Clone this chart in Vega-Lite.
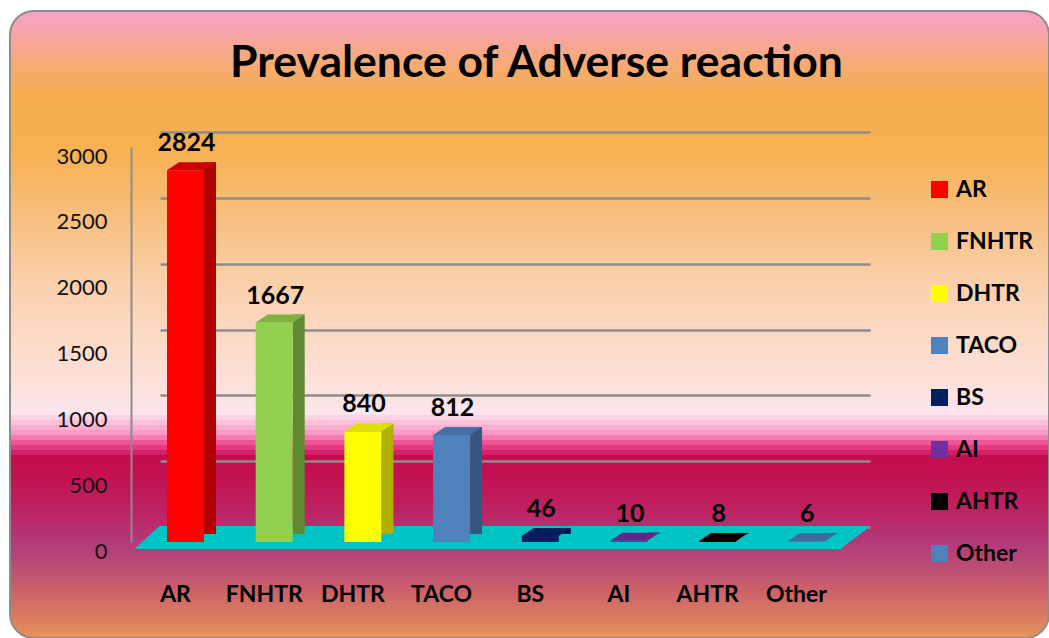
{
  "$schema": "https://vega.github.io/schema/vega-lite/v6.json",
  "width": 1039,
  "height": 627,
  "padding": {"left": 10, "top": 11, "right": 0, "bottom": 0},
  "autosize": {"type": "none"},
  "background": "#ffffff",
  "config": {
    "font": "Lato",
    "view": {
      "cornerRadius": 24,
      "stroke": "#8c8c8c",
      "strokeWidth": 2,
      "fill": {
        "gradient": "linear", "x1": 0, "y1": 0, "x2": 0, "y2": 1,
        "stops": [
          {"offset": 0.0, "color": "#f9a1c9"},
          {"offset": 0.03, "color": "#f8a4b0"},
          {"offset": 0.078, "color": "#f7a97a"},
          {"offset": 0.134, "color": "#f6ae4e"},
          {"offset": 0.222, "color": "#f6b151"},
          {"offset": 0.301, "color": "#f7bb72"},
          {"offset": 0.381, "color": "#f9c896"},
          {"offset": 0.461, "color": "#fbd3b4"},
          {"offset": 0.541, "color": "#fcdccb"},
          {"offset": 0.62, "color": "#fde3e3"},
          {"offset": 0.644, "color": "#fde6ee"},
          {"offset": 0.6443, "color": "#fcd3e4"},
          {"offset": 0.6523, "color": "#fcd3e4"},
          {"offset": 0.6524, "color": "#fcc0d9"},
          {"offset": 0.6603, "color": "#fcc0d9"},
          {"offset": 0.6604, "color": "#fbaed0"},
          {"offset": 0.6683, "color": "#fbaed0"},
          {"offset": 0.6684, "color": "#f99bc6"},
          {"offset": 0.6762, "color": "#f99bc6"},
          {"offset": 0.6763, "color": "#f67bb4"},
          {"offset": 0.6842, "color": "#f67bb4"},
          {"offset": 0.6843, "color": "#f05598"},
          {"offset": 0.6922, "color": "#f05598"},
          {"offset": 0.6923, "color": "#e43a82"},
          {"offset": 0.7002, "color": "#e43a82"},
          {"offset": 0.7003, "color": "#d51f68"},
          {"offset": 0.7081, "color": "#d51f68"},
          {"offset": 0.7082, "color": "#c40c4e"},
          {"offset": 0.748, "color": "#c21354"},
          {"offset": 0.796, "color": "#bd2262"},
          {"offset": 0.844, "color": "#b3387a"},
          {"offset": 0.876, "color": "#b84876"},
          {"offset": 0.923, "color": "#cb6069"},
          {"offset": 0.963, "color": "#d97a62"},
          {"offset": 1.0, "color": "#e6955a"}
        ]
      }
    }
  },
  "title": {
    "text": "Prevalence of Adverse reaction",
    "font": "Lato",
    "fontSize": 44.5,
    "fontWeight": "bold",
    "color": "#000000",
    "anchor": "middle",
    "frame": "group",
    "baseline": "alphabetic",
    "offset": -110,
    "dx": 7
  },
  "data": {
    "values": [
      {"cat": "AR", "value": 2824},
      {"cat": "FNHTR", "value": 1667},
      {"cat": "DHTR", "value": 840},
      {"cat": "TACO", "value": 812},
      {"cat": "BS", "value": 46},
      {"cat": "AI", "value": 10},
      {"cat": "AHTR", "value": 8},
      {"cat": "Other", "value": 6}
    ]
  },
  "encoding": {
    "x": {
      "field": "cat",
      "type": "nominal",
      "sort": null,
      "scale": {"range": [150, 860], "paddingInner": 0.5, "paddingOuter": 0.2525, "align": 0.0744},
      "axis": {
        "title": null,
        "orient": "bottom",
        "offset": -50,
        "domain": false,
        "ticks": false,
        "grid": false,
        "labelAngle": 0,
        "labelFont": "Lato",
        "labelFontSize": 23,
        "labelFontWeight": "bold",
        "labelColor": "#000000",
        "labelBaseline": "middle",
        "labelPadding": 6,
        "labelOffset": -10
      }
    },
    "y": {
      "field": "value",
      "type": "quantitative",
      "scale": {"domain": [0, 3000], "range": [531, 136], "nice": false, "zero": true},
      "axis": {
        "title": null,
        "values": [0, 500, 1000, 1500, 2000, 2500, 3000],
        "format": "d",
        "offset": -121,
        "domain": true,
        "domainColor": "#8c8c8c",
        "domainWidth": 2,
        "ticks": false,
        "tickSize": 0,
        "tickOffset": -15,
        "labelOffset": 24,
        "labelPadding": 24,
        "labelFont": "Lato",
        "labelFontSize": 22,
        "labelColor": "#111111",
        "grid": true,
        "gridColor": "#8c8c8c",
        "gridWidth": 2.5,
        "gridOpacity": 1
      }
    }
  },
  "layer": [
    {
      "mark": {
        "type": "point",
        "filled": true,
        "fill": "#00c4c4",
        "opacity": 1,
        "strokeWidth": 0,
        "size": 540225,
        "xOffset": -27,
        "yOffset": -4.5,
        "shape": "M -1 0.0313 L 0.918 0.0313 L 1 -0.0313 L -0.932 -0.0313 Z"
      },
      "encoding": {
        "x": null,
        "y": {"datum": 0, "type": "quantitative"}
      }
    },
    {
      "mark": {"type": "bar", "width": 12, "xOffset": 24.5, "yOffset": -8, "y2Offset": -7},
      "encoding": {
        "fill": {
          "field": "cat",
          "type": "nominal",
          "legend": null,
          "scale": {
            "domain": ["AR", "FNHTR", "DHTR", "TACO", "BS", "AI", "AHTR", "Other"],
            "range": ["#b00000", "#5f8a31", "#b0b000", "#34567f", "#001845", "#4a1f6e", "#000000", "#30507a"]
          }
        }
      }
    },
    {
      "mark": {"type": "bar", "width": 37},
      "encoding": {
        "color": {
          "field": "cat",
          "type": "nominal",
          "scale": {
            "domain": ["AR", "FNHTR", "DHTR", "TACO", "BS", "AI", "AHTR", "Other"],
            "range": ["#ff0000", "#92d050", "#ffff00", "#4f81bd", "#002060", "#7030a0", "#000000", "#4f81bd"]
          },
          "legend": {
            "title": null,
            "orient": "none",
            "legendX": 918,
            "legendY": 167,
            "symbolType": "square",
            "symbolSize": 289,
            "symbolStrokeWidth": 0,
            "symbolOpacity": 1,
            "labelFont": "Lato",
            "labelFontSize": 23,
            "labelFontWeight": "bold",
            "labelColor": "#000000",
            "labelOffset": 5,
            "rowPadding": 28,
            "padding": 0
          }
        }
      }
    },
    {
      "mark": {
        "type": "point",
        "filled": true,
        "opacity": 1,
        "strokeWidth": 0,
        "size": 2401,
        "xOffset": 6,
        "yOffset": -4,
        "shape": "M -1 0.163 L 0.51 0.163 L 1 -0.163 L -0.51 -0.163 Z"
      },
      "encoding": {
        "fill": {
          "field": "cat",
          "type": "nominal",
          "legend": null,
          "scale": {
            "domain": ["AR", "FNHTR", "DHTR", "TACO", "BS", "AI", "AHTR", "Other"],
            "range": ["#cc0000", "#7fb23e", "#dede00", "#426fa6", "#001f5c", "#5e2887", "#000000", "#3f6a9c"]
          }
        }
      }
    },
    {
      "mark": {
        "type": "text",
        "font": "Lato",
        "fontSize": 25,
        "fontWeight": "bold",
        "color": "#000000",
        "baseline": "alphabetic",
        "align": "center",
        "dy": -19,
        "dx": 1
      },
      "encoding": {
        "text": {"field": "value", "type": "quantitative"}
      }
    }
  ],
  "resolve": {"scale": {"fill": "independent"}}
}
